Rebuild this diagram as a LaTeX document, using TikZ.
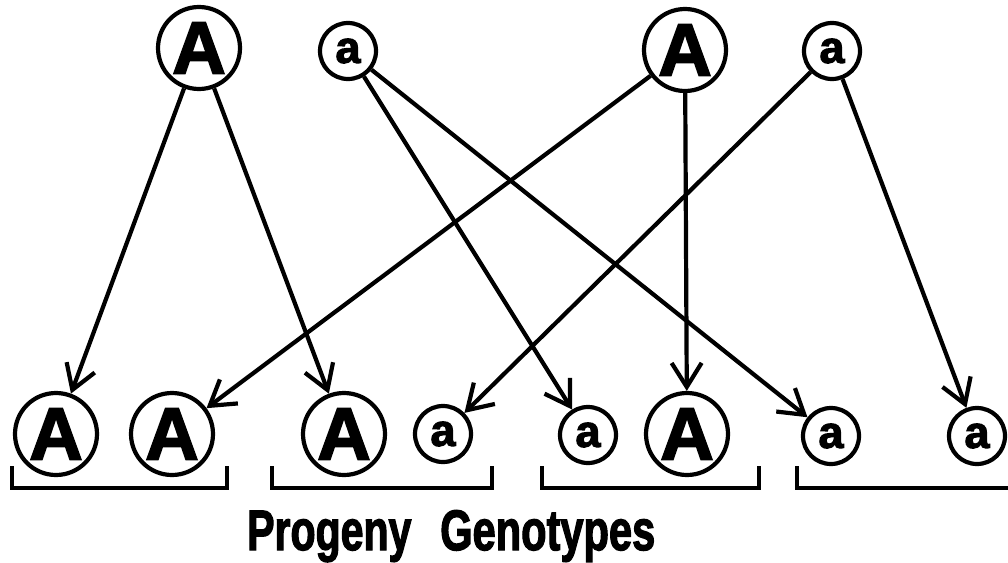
\documentclass[tikz,border=0pt]{standalone}
\usepackage{fontspec}
\newfontfamily\hv{Liberation Sans}[BoldFeatures={FakeBold=2.5}]
\usetikzlibrary{arrows.meta}
\tikzset{
  big/.style={circle, draw, line width=4.2pt, minimum size=82pt, inner sep=0pt, font=\hv\bfseries\fontsize{74}{74}\selectfont},
  small/.style={circle, draw, line width=4.2pt, minimum size=56pt, inner sep=0pt, font=\hv\bfseries\fontsize{45}{45}\selectfont},
  arr/.style={line width=4.2pt, -{Straight Barb[length=24pt, width=30pt, line width=4.2pt]}},
  brk/.style={line width=4.2pt},
  lbl/.style={inner sep=0pt, font=\hv\bfseries\fontsize{57}{57}\selectfont}
}
\begin{document}
\begin{tikzpicture}[x=1pt,y=-1pt]
\useasboundingbox (0,0) rectangle (1008,562);
% parents
\node[big]   (tA1) at (199,48) {A};
\node[small] (ta1) at (348,51) {a};
\node[big]   (tA2) at (685,50) {A};
\node[small] (ta2) at (832,51) {a};
% progeny
\node[big]   (b1) at (56,434)  {A};
\node[big]   (b2) at (172,434) {A};
\node[big]   (b3) at (344,434) {A};
\node[small] (b4) at (443,434) {a};
\node[small] (b5) at (588,435) {a};
\node[big]   (b6) at (687,434) {A};
\node[small] (b7) at (831,436) {a};
\node[small] (b8) at (977,436) {a};
% arrows
\draw[arr] (tA1) -- (b1);
\draw[arr] (tA1) -- (b3);
\draw[arr] (ta1) -- (b5);
\draw[arr] (ta1) -- (b7);
\draw[arr] (tA2) -- (b2);
\draw[arr] (tA2) -- (b6);
\draw[arr] (ta2) -- (b4);
\draw[arr] (ta2) -- (b8);
% brackets
\draw[brk] (12,466) -- (12,488) -- (227,488) -- (227,466);
\draw[brk] (272,466) -- (272,488) -- (492,488) -- (492,466);
\draw[brk] (542,466) -- (542,488) -- (759,488) -- (759,466);
\draw[brk] (797,466) -- (797,488) -- (1010,488);
% label
\node[lbl, anchor=base west] (p) at (247,550) {\scalebox{0.72}[1]{Progeny}};
\node[lbl, anchor=base west] (g) at (440,550) {\scalebox{0.73}[1]{Genotypes}};
\end{tikzpicture}
\end{document}
